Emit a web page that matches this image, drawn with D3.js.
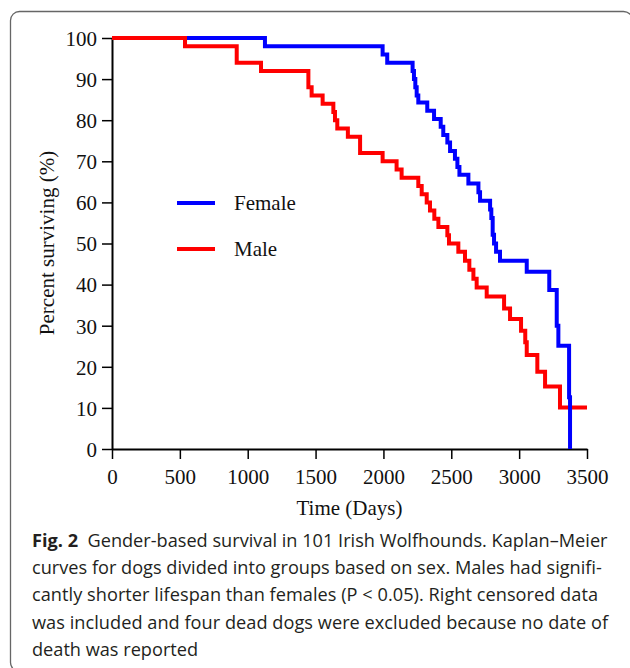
<!DOCTYPE html>
<html>
<head>
<meta charset="utf-8">
<script src="https://cdn.jsdelivr.net/npm/d3@7"></script>
<style>
  body { margin: 0; background: #fff; }
  svg { display: block; }
</style>
</head>
<body>
<svg id="chart" width="630" height="668"></svg>
<script>
// Kaplan-Meier step points (day, percent surviving after the step)
var femaleDays = [0, 1127, 1994, 2028, 2215, 2225, 2235, 2245, 2257, 2323, 2373, 2422, 2441, 2471, 2491, 2527, 2545, 2560, 2626, 2700, 2712, 2786, 2795, 2805, 2815, 2830, 2859, 3056, 3222, 3277, 3289, 3368, 3375];
var femaleSurv = [100, 98, 96, 94, 92, 90, 88, 86, 84.3, 82.3, 80.3, 78.4, 76.4, 74.6, 72.5, 70.6, 68.6, 66.7, 64.6, 62.5, 60.4, 58.3, 56.2, 52.1, 50, 48, 45.8, 43.1, 38.7, 30, 25.1, 12.6, 0];

var maleDays = [0, 538, 919, 1098, 1447, 1471, 1552, 1631, 1643, 1660, 1738, 1828, 1994, 2097, 2134, 2257, 2282, 2319, 2343, 2375, 2405, 2471, 2483, 2552, 2601, 2633, 2663, 2687, 2761, 2889, 2933, 3014, 3045, 3056, 3134, 3191, 3301, 3500];
var maleSurv = [100, 98, 94, 92, 88, 86, 84, 82, 80, 78, 76, 72, 70, 68, 66, 64, 62, 60, 58, 56, 54, 52, 50, 48, 45.8, 43.6, 41.4, 39.3, 37.1, 34.2, 31.6, 28.8, 26, 22.9, 18.8, 15.2, 10.1, 10.1];

var xTicks = [0, 500, 1000, 1500, 2000, 2500, 3000, 3500];
var yTicks = [0, 10, 20, 30, 40, 50, 60, 70, 80, 90, 100];

var seriesNames = ["Female", "Male"];
var seriesColors = ["#0000ff", "#ff0000"];

var captionBold = "Fig. 2";
var captionLines = [
  "Gender-based survival in 101 Irish Wolfhounds. Kaplan\u2013Meier",
  "curves for dogs divided into groups based on sex. Males had signifi-",
  "cantly shorter lifespan than females (P < 0.05). Right censored data",
  "was included and four dead dogs were excluded because no date of",
  "death was reported"
];

var svg = d3.select('#chart');
var serif = '"Liberation Serif", "Times New Roman", serif';

// frame round the figure
svg.append('rect')
  .attr('x', 10.5).attr('y', 11.5)
  .attr('width', 622).attr('height', 660)
  .attr('rx', 9)
  .attr('fill', 'none')
  .attr('stroke', '#666')
  .attr('stroke-width', 1.3);

var x = d3.scaleLinear().domain([0, 3500]).range([112, 587]);
var y = d3.scaleLinear().domain([0, 100]).range([449, 38]);

var xAxis = svg.append('g')
  .attr('transform', 'translate(0,' + y(0) + ')')
  .call(d3.axisBottom(x).tickValues(xTicks).tickFormat(d3.format('d'))
    .tickSize(10).tickSizeOuter(0).tickPadding(6));
var yAxis = svg.append('g')
  .attr('transform', 'translate(' + x(0) + ',0)')
  .call(d3.axisLeft(y).tickValues(yTicks).tickFormat(d3.format('d'))
    .tickSize(10).tickSizeOuter(0).tickPadding(5));

[xAxis, yAxis].forEach(function(a) {
  a.select('.domain').attr('stroke', '#000').attr('stroke-width', 2);
  a.selectAll('.tick line').attr('stroke', '#000').attr('stroke-width', 1.5);
  a.selectAll('.tick text').attr('font-family', serif).attr('font-size', 21).attr('fill', '#111');
});
xAxis.selectAll('.tick text').attr('dy', '0.9em');
yAxis.selectAll('.tick text').attr('dy', '0.35em');

// survival curves
var line = d3.line()
  .x(function(d) { return x(d[0]); })
  .y(function(d) { return y(d[1]); })
  .curve(d3.curveStepAfter);

var maleData = d3.zip(maleDays, maleSurv);
var femaleData = d3.zip(femaleDays, femaleSurv);

svg.append('path').datum(maleData)
  .attr('d', line).attr('fill', 'none')
  .attr('stroke', seriesColors[1]).attr('stroke-width', 4);
svg.append('path').datum(femaleData)
  .attr('d', line).attr('fill', 'none')
  .attr('stroke', seriesColors[0]).attr('stroke-width', 4);
// red start drawn over blue at 100%, as in the original
svg.append('path').datum(maleData.slice(0, 2))
  .attr('d', line).attr('fill', 'none')
  .attr('stroke', seriesColors[1]).attr('stroke-width', 4);

// legend
var legend = svg.append('g');
seriesNames.forEach(function(name, i) {
  var ly = 203 + i * 46;
  legend.append('line')
    .attr('x1', 177).attr('x2', 215)
    .attr('y1', ly).attr('y2', ly)
    .attr('stroke', seriesColors[i]).attr('stroke-width', 4);
  legend.append('text')
    .attr('x', 234).attr('y', ly + 7)
    .attr('font-family', serif).attr('font-size', 21).attr('fill', '#111')
    .text(name);
});

// axis titles
svg.append('text')
  .attr('x', 349.5).attr('y', 515)
  .attr('text-anchor', 'middle')
  .attr('font-family', serif).attr('font-size', 21).attr('fill', '#111')
  .text('Time (Days)');
svg.append('text')
  .attr('transform', 'translate(54,243) rotate(-90)')
  .attr('text-anchor', 'middle')
  .attr('font-family', serif).attr('font-size', 21).attr('fill', '#111')
  .text('Percent surviving (%)');

// caption: shrink the font so the natural width fits, then stretch lines a bit
var capFont = '"Open Sans", "Noto Sans", sans-serif';
var capLeft = 32;
var capRight = [609, 602, 598, 608, 192];
var capTexts = captionLines.map(function(txt, i) {
  var t = svg.append('text')
    .attr('x', capLeft).attr('y', 547 + i * 27.2)
    .attr('font-family', capFont).attr('font-size', 19).attr('fill', '#231f20');
  if (i === 0) {
    t.append('tspan').attr('font-weight', 'bold').text(captionBold);
    t.append('tspan').text('\u00a0\u00a0' + txt);
  } else {
    t.text(txt);
  }
  return t;
});
var ratio = d3.min(capTexts.slice(0, 4), function(t, i) {
  return (capRight[i] - capLeft) / t.node().getComputedTextLength();
});
var capSize = Math.min(19, 19 * ratio);
capTexts.forEach(function(t, i) {
  t.attr('font-size', capSize);
  var w = t.node().getComputedTextLength();
  var target = capRight[i] - capLeft;
  if (target - w > 2) {
    t.attr('textLength', target).attr('lengthAdjust', 'spacing');
  }
});
</script>
</body>
</html>
